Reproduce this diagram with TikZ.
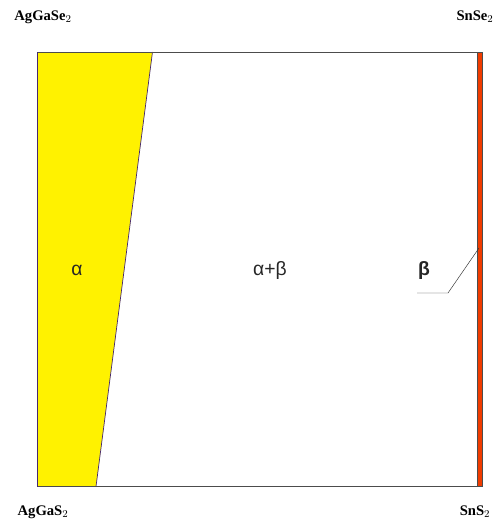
\documentclass[tikz,border=0pt]{standalone}
\usepackage{fontspec}
\setmainfont{Liberation Serif}
\newfontfamily\phasefont{Liberation Sans}
\usetikzlibrary{positioning}
\definecolor{phasered}{RGB}{240,60,0}
\definecolor{edgeblue}{RGB}{70,40,110}

\begin{document}
\begin{tikzpicture}[x=0.03cm,y=-0.03cm,
 corner/.style={font=\fontsize{12.5}{14}\selectfont\bfseries},
 phase/.style={font=\phasefont\fontsize{16.5}{18}\selectfont,text=black!85}]
\useasboundingbox (0,0) rectangle (494,522);
% phase fields
\fill[yellow] (37,52) -- (152.5,52) -- (96,486.5) -- (37,486.5) -- cycle;
\draw[edgeblue,semithick] (152.5,52) -- (96,486.5);
\filldraw[fill=phasered,draw=black!70,thin] (477,52) rectangle (482,486.5);
% frame
\draw[black!70,thick] (477,52) -- (37,52) -- (37,486.5) -- (477,486.5);
\draw[edgeblue,semithick] (37,52) -- (37,486.5);
% corner compounds
\node[corner] (agse) at (43,17) {AgGaSe$_2$};
\node[corner] (snse) at (475,17) {SnSe$_2$};
\node[corner] (ags) at (43,512) {AgGaS$_2$};
\node[corner] (sns) at (475,512) {SnS$_2$};
% phase labels
\node[phase] (a) at (77,270) {α};
\node[phase] (ab) at (270,270) {α+β};
\node[phase,font=\phasefont\fontsize{16.5}{18}\selectfont\bfseries] (b) at (424,270) {β};
\coordinate (bl) at (417,293);
\coordinate (bk) at (448,293);
\coordinate (bs) at (479,248);
\draw[black!80,thin] (bl) -- (bk) -- (bs);
\end{tikzpicture}
\end{document}
